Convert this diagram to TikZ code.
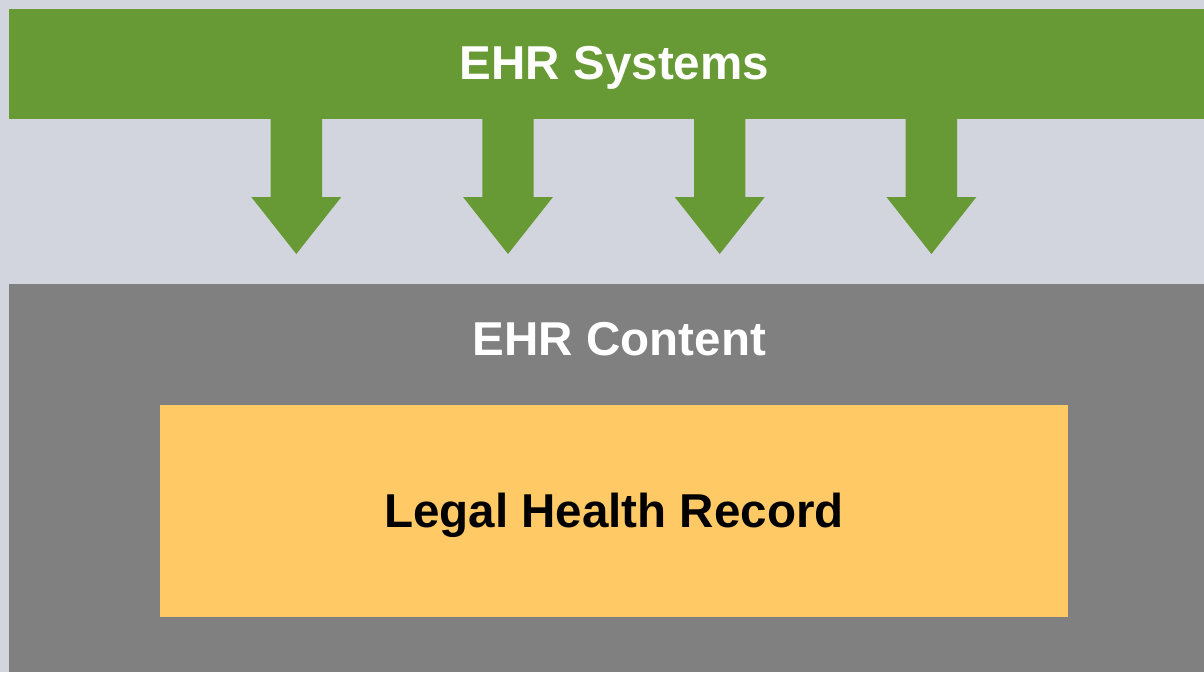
\documentclass[tikz,border=0pt]{standalone}
\usepackage{fontspec}
\setmainfont{Liberation Sans}
\usepackage{tikz}

\definecolor{paper}{HTML}{D2D5DD}
\definecolor{ehrgreen}{HTML}{679A35}
\definecolor{ehrgray}{HTML}{808080}
\definecolor{lhryellow}{HTML}{FFCA66}

\begin{document}
\begin{tikzpicture}[x=0.025cm, y=-0.025cm,
        label/.style = {anchor=base, inner sep=0pt, font=\bfseries\fontsize{33.8pt}{40pt}\selectfont},
        drop/.style = {fill=ehrgreen}]
        \useasboundingbox (0,0) rectangle (1204,672);
        \fill[paper] (0,0) rectangle (1204,672);

        % systems band and the content area below it
        \fill[ehrgreen] (9,9) coordinate (sysTL) rectangle (1204,118.5) coordinate (sysBR);
        \fill[ehrgray] (9,284) coordinate (cntTL) rectangle (1204,672) coordinate (cntBR);
        \fill[lhryellow] (160,405) coordinate (lhrTL) rectangle (1068,617) coordinate (lhrBR);

        % block arrows hanging from the band
        \foreach \c in {296.3, 508, 719.7, 931.4} {
            \fill[drop] (\c-25.7,118) -- (\c+25.7,118) -- (\c+25.7,197)
                -- (\c+45,197) -- (\c,254) -- (\c-45,197) -- (\c-25.7,197) -- cycle;
        }

        \node[label, text=white] (sys) at (614.5,79.5) {EHR Systems};
        \node[label, text=white] (cnt) at (619.5,355) {EHR Content};
        \node[label, text=black] (lhr) at (614,527.5) {Legal Health Record};
    \end{tikzpicture}
\end{document}
